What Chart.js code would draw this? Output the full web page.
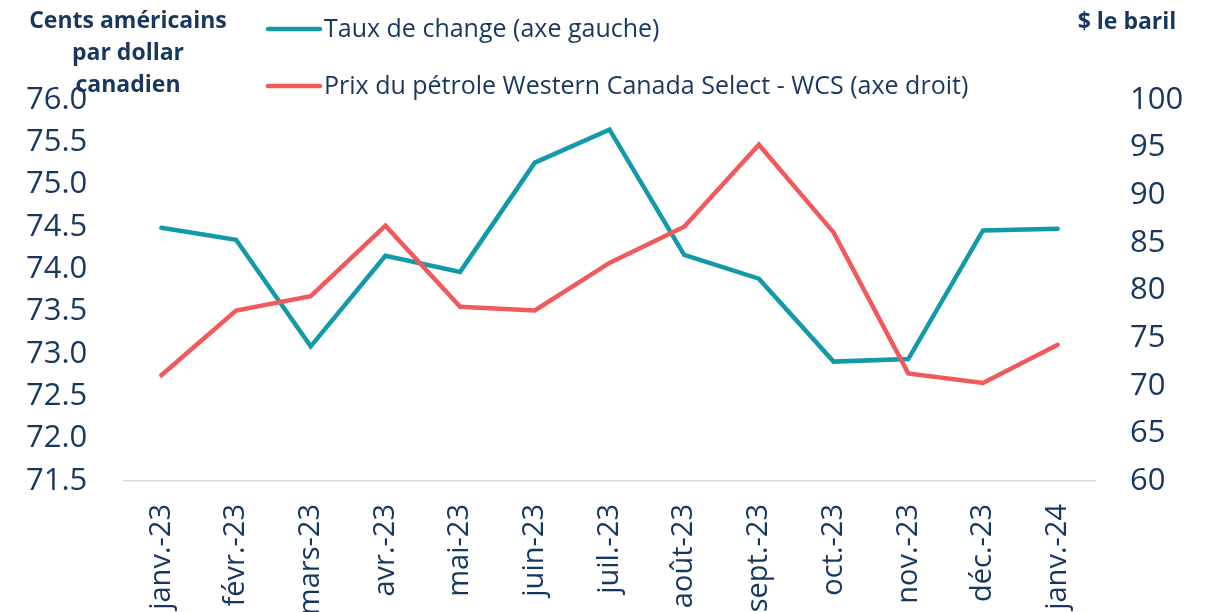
<!DOCTYPE html>
<html>
<head>
<meta charset="utf-8">
<script src="https://cdn.jsdelivr.net/npm/chart.js@4"></script>
<style>
  body { margin: 0; background: #fff; }
  #wrap { width: 1211px; height: 612px; }
</style>
</head>
<body>
<div id="wrap"><canvas id="myChart" width="1211" height="612"></canvas></div>
<script>
// donnees
const mois = ['janv.-23', 'févr.-23', 'mars-23', 'avr.-23', 'mai-23', 'juin-23', 'juil.-23',
              'août-23', 'sept.-23', 'oct.-23', 'nov.-23', 'déc.-23', 'janv.-24'];
const tauxChange = [74.49, 74.35, 73.09, 74.16, 73.97, 75.26, 75.65, 74.17, 73.89, 72.91, 72.94, 74.46, 74.48];
const prixWCS = [71.1, 77.9, 79.4, 86.8, 78.3, 77.9, 82.9, 86.7, 95.3, 86.1, 71.3, 70.3, 74.3];
const ticksGauche = [71.5, 72.0, 72.5, 73.0, 73.5, 74.0, 74.5, 75.0, 75.5, 76.0];
const ticksDroit = [60, 65, 70, 75, 80, 85, 90, 95, 100];

const bleu = '#17375E';
const police = "'Open Sans', sans-serif";

// legende + titres des axes
const textes = {
    id: 'textes',
    afterDraw(chart) {
        const c = chart.ctx;
        c.save();
        c.fillStyle = bleu;
        c.textBaseline = 'middle';
        c.font = 'bold 23px ' + police;
        c.textAlign = 'center';
        c.fillText('Cents américains', 128, 21);
        c.fillText('par dollar', 128, 53);
        c.fillText('canadien', 128, 85);
        c.fillText('$ le baril', 1127, 22);

        c.font = '25px ' + police;
        c.textAlign = 'left';
        chart.data.datasets.forEach(function (ds, i) {
            const y = 29 + i * 57;
            c.strokeStyle = ds.borderColor;
            c.lineWidth = 4.5;
            c.lineCap = 'round';
            c.beginPath();
            c.moveTo(268, y);
            c.lineTo(320, y);
            c.stroke();
            c.fillText(ds.label, 324, y + 1);
        });
        c.restore();
    }
};

const ctx = document.getElementById('myChart');

const data = {
    labels: mois,
    datasets: [{
        label: 'Taux de change (axe gauche)',
        data: tauxChange,
        borderColor: '#129AA8',
        yAxisID: 'y',
        order: 1
    }, {
        label: 'Prix du pétrole Western Canada Select - WCS (axe droit)',
        data: prixWCS,
        borderColor: '#F05A5B',
        yAxisID: 'y1',
        order: 0
    }]
};

const config = {
    type: 'line',
    data,
    options: {
        responsive: false,
        animation: false,
        layout: { padding: { top: 100, left: 26, right: 0, bottom: 0 } },
        elements: {
            point: { radius: 0 },
            line: { borderWidth: 4.5, tension: 0, borderCapStyle: 'round', fill: false }
        },
        plugins: {
            legend: { display: false },
            tooltip: { enabled: false }
        },
        scales: {
            x: {
                offset: true,
                grid: { display: false, drawTicks: false },
                border: { display: true, color: '#D9D9D9', width: 1.5 },
                ticks: {
                    color: bleu,
                    font: { family: police, size: 29 },
                    minRotation: 90,
                    maxRotation: 90,
                    autoSkip: false,
                    padding: 23
                },
                afterFit: function (s) { s.height = 131; }
            },
            y: {
                position: 'left',
                min: 71.5,
                max: 76,
                grid: { display: false, drawTicks: false },
                border: { display: false },
                afterBuildTicks: function (s) { s.ticks = ticksGauche.map(v => ({ value: v })); },
                ticks: {
                    color: bleu,
                    font: { family: police, size: 31 },
                    padding: 0,
                    crossAlign: 'far',
                    callback: v => v.toFixed(1)
                },
                afterFit: function (s) { s.width = 98; }
            },
            y1: {
                position: 'right',
                min: 60,
                max: 100,
                grid: { display: false, drawTicks: false },
                border: { display: false },
                afterBuildTicks: function (s) { s.ticks = ticksDroit.map(v => ({ value: v })); },
                ticks: {
                    color: bleu,
                    font: { family: police, size: 31 },
                    padding: 35
                },
                afterFit: function (s) { s.width = 116; }
            }
        }
    },
    plugins: [textes]
};

const Mychart = new Chart(ctx, config);
</script>
</body>
</html>
